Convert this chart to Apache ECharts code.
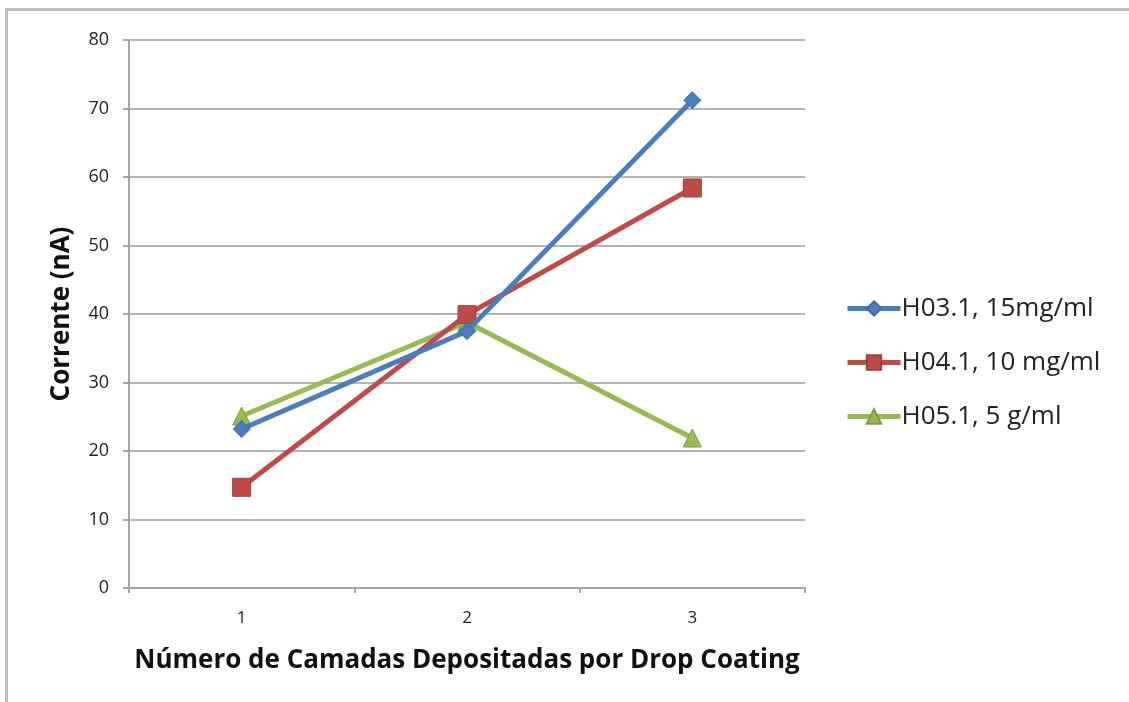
<!DOCTYPE html>
<html>
<head>
<meta charset="utf-8">
<script src="https://cdn.jsdelivr.net/npm/echarts@6/dist/echarts.min.js"></script>
<style>
  html, body { margin: 0; padding: 0; background: #fff; }
  #chart { width: 1129px; height: 702px; }
</style>
</head>
<body>
<div id="chart"></div>
<script>
// Layers deposited by drop coating
const categories = ['1', '2', '3'];

// Measured current (nA) per sample
const seriesNames = ['H03.1, 15mg/ml', 'H04.1, 10 mg/ml', 'H05.1, 5 g/ml'];
const h03 = [23.2, 37.5, 71.2];
const h04 = [14.7, 39.9, 58.4];
const h05 = [25.1, 38.8, 21.9];

const yTicks = { min: 0, max: 80, interval: 10 };

const FONT = '"Open Sans", "Noto Sans", sans-serif';
const colors = ['#4a7ebb', '#be4b48', '#98b954'];
const borders = ['#3d6ba3', '#a03c3a', '#7f9c45'];
const symbols = ['diamond', 'rect', 'triangle'];
const sizes = [17, 18, 18];
const values = [h03, h04, h05];

const chart = echarts.init(document.getElementById('chart'), null, { renderer: 'canvas' });

chart.setOption({
  backgroundColor: '#ffffff',
  animation: false,
  graphic: [
    { type: 'rect', shape: { x: 5, y: 8, width: 1124, height: 3 }, style: { fill: '#bdbdbd' }, silent: true },
    { type: 'rect', shape: { x: 5, y: 8, width: 3, height: 694 }, style: { fill: '#bdbdbd' }, silent: true }
  ],
  grid: { left: 129, right: 324, top: 40, bottom: 114, containLabel: false },
  legend: {
    orient: 'vertical',
    left: 840,
    top: 290,
    itemWidth: 53,
    itemHeight: 18,
    itemGap: 27,
    lineStyle: { width: 5 },
    textStyle: { fontFamily: FONT, fontSize: 26, color: '#222', lineHeight: 27, padding: [0, 0, 0, -4] },
    data: seriesNames
  },
  xAxis: {
    type: 'category',
    data: categories,
    boundaryGap: true,
    name: 'Número de Camadas Depositadas por Drop Coating',
    nameLocation: 'middle',
    nameGap: 60,
    nameTextStyle: { fontFamily: FONT, fontSize: 26, fontWeight: 'bold', color: '#111' },
    axisLine: { lineStyle: { color: '#a6a6a6', width: 2 } },
    axisTick: { show: true, length: 5, alignWithLabel: false, lineStyle: { color: '#a6a6a6', width: 2 } },
    axisLabel: { fontFamily: FONT, fontSize: 17, color: '#222', margin: 22 }
  },
  yAxis: {
    type: 'value',
    min: yTicks.min,
    max: yTicks.max,
    interval: yTicks.interval,
    name: 'Corrente (nA)',
    nameLocation: 'middle',
    nameGap: 54,
    nameRotate: 90,
    nameTextStyle: { fontFamily: FONT, fontSize: 26, fontWeight: 'bold', color: '#111' },
    axisLine: { show: true, lineStyle: { color: '#a6a6a6', width: 2 } },
    axisTick: { show: true, length: 6, lineStyle: { color: '#a6a6a6', width: 2 } },
    axisLabel: { fontFamily: FONT, fontSize: 18, color: '#222', margin: 20 },
    splitLine: { show: true, lineStyle: { color: '#b4b4b4', width: 2 } }
  },
  series: seriesNames.map((name, i) => ({
    name: name,
    type: 'line',
    data: values[i],
    symbol: symbols[i],
    symbolSize: sizes[i],
    showAllSymbol: true,
    lineStyle: { color: colors[i], width: 5 },
    itemStyle: { color: colors[i], borderColor: borders[i], borderWidth: 1 },
    z: 3 - i
  }))
});
</script>
</body>
</html>
